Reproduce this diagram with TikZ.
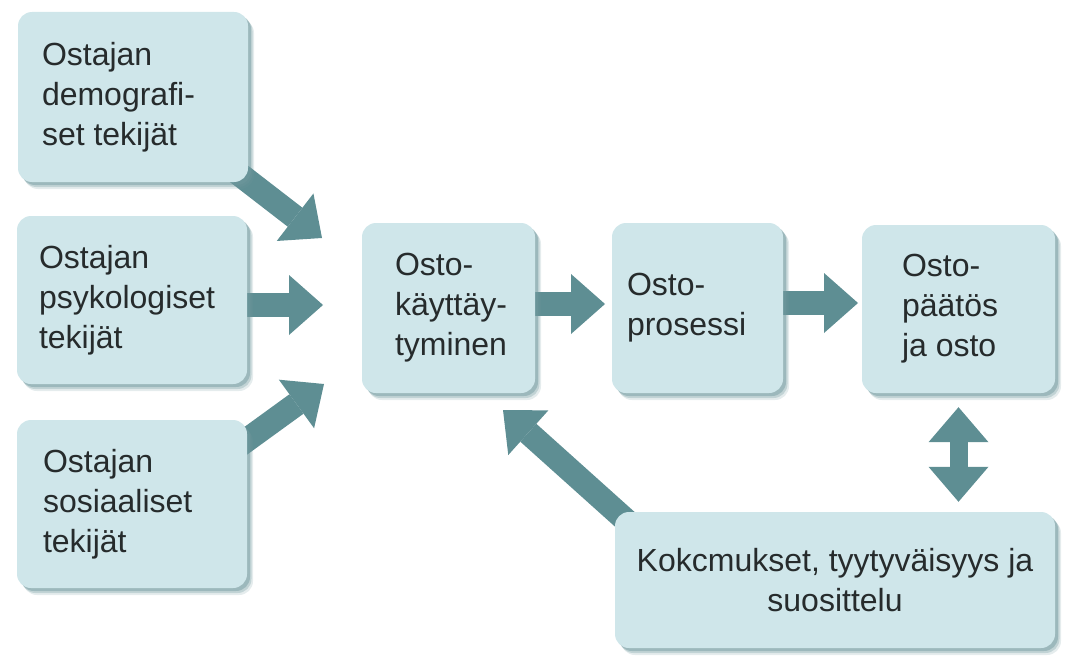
\documentclass[tikz,border=0pt]{standalone}
\usepackage{fontspec}
\setmainfont{Liberation Sans}
\usetikzlibrary{arrows.meta,shadows,calc,backgrounds}

\definecolor{boxfill}{HTML}{CFE6EA}
\definecolor{arrowcol}{HTML}{5E8E93}
\definecolor{shadecol}{HTML}{6F989D}
\definecolor{txt}{HTML}{262B2C}

\begin{document}
\begin{tikzpicture}[x=1pt,y=-1pt,
  card/.style={rounded corners=14pt, fill=boxfill, draw=none, inner sep=0pt,
    general shadow={fill=shadecol, opacity=0.18, shadow xshift=6pt, shadow yshift=-7pt},
    general shadow={fill=shadecol, opacity=0.30, shadow xshift=4.5pt, shadow yshift=-5pt},
    general shadow={fill=shadecol, opacity=0.45, shadow xshift=3pt, shadow yshift=-3pt}},
  words/.style={text=txt, font=\fontsize{32}{40}\selectfont, inner sep=0pt},
  flow/.style={draw=arrowcol, line width=24pt,
    -{Triangle[length=34pt, width=60pt, line width=0pt]}},
  twoway/.style={draw=arrowcol, line width=18pt,
    {Triangle[length=35pt, width=60pt, line width=0pt]}-{Triangle[length=35pt, width=60pt, line width=0pt]}}]

\useasboundingbox (0,0) rectangle (1067,658);

% boxes
\node[card, minimum width=230pt, minimum height=170pt] (dem) at (133,97) {};
\node[card, minimum width=230pt, minimum height=168pt] (psy) at (132,300) {};
\node[card, minimum width=230pt, minimum height=168pt] (sos) at (132,504) {};
\node[card, minimum width=173pt, minimum height=170pt] (kay) at (448.5,308) {};
\node[card, minimum width=171pt, minimum height=170pt] (pro) at (697.5,308) {};
\node[card, minimum width=193pt, minimum height=168pt] (osp) at (958.5,309) {};
\node[card, minimum width=440pt, minimum height=136pt, words, align=center] (kok) at (835,580)
  {Kokcmukset, tyytyväisyys ja\\suosittelu};

% box texts
\node[words, align=left, anchor=west] (dem-t) at ([xshift=24pt]dem.west) {Ostajan\\demografi-\\set tekijät};
\node[words, align=left, anchor=west] (psy-t) at ([xshift=22pt]psy.west) {Ostajan\\psykologiset\\tekijät};
\node[words, align=left, anchor=west] (sos-t) at ([xshift=26pt]sos.west) {Ostajan\\sosiaaliset\\tekijät};
\node[words, align=left, anchor=west] (kay-t) at ([xshift=33pt]kay.west) {Osto-\\käyttäy-\\tyminen};
\node[words, align=left, anchor=west] (pro-t) at ([xshift=15pt]pro.west) {Osto-\\prosessi};
\node[words, align=left, anchor=west] (osp-t) at ([xshift=40pt]osp.west) {Osto-\\päätös\\ja osto};

% arrow tips
\coordinate (t-dem) at (322,238);
\coordinate (t-psy) at (323,305);
\coordinate (t-sos) at (324,384);
\coordinate (t-kay) at (605,304);
\coordinate (t-pro) at (858,303);
\coordinate (t-kok) at (503,410);

\begin{scope}[on background layer]
  \draw[flow] ([shift={(-14,-12)}]dem.south east) -- (t-dem);
  \draw[flow] ($(psy.east)+(-5,5)$) -- (t-psy);
  \draw[flow] ([shift={(-7,25)}]sos.north east) -- (t-sos);
  \draw[flow] ($(kay.east)+(-2,-4)$) -- (t-kay);
  \draw[flow] ($(pro.east)+(-2,-5)$) -- (t-pro);
  \draw[flow] ([shift={(15,12)}]kok.north west) -- (t-kok);
  \draw[twoway] ($(osp.south)+(0,14)$) -- ($(osp.south |- kok.north)+(0,-10)$);
\end{scope}
\end{tikzpicture}
\end{document}
